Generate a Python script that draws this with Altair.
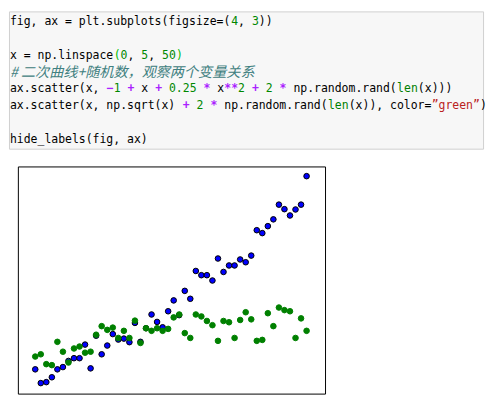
import altair as alt
import pandas as pd

# ---- scatter data ----
x_vals = [0.000, 0.102, 0.204, 0.306, 0.408, 0.510, 0.612, 0.714, 0.816, 0.918,
          1.020, 1.122, 1.224, 1.327, 1.429, 1.531, 1.633, 1.735, 1.837, 1.939,
          2.041, 2.143, 2.245, 2.347, 2.449, 2.551, 2.653, 2.755, 2.857, 2.959,
          3.061, 3.163, 3.265, 3.367, 3.469, 3.571, 3.673, 3.776, 3.878, 3.980,
          4.082, 4.184, 4.286, 4.388, 4.490, 4.592, 4.694, 4.796, 4.898, 5.000]
blue_y = [0.05, -0.80, -0.74, -0.44, 0.05, 0.19, 0.57, 0.74, 0.74, 1.58,
          0.11, 2.13, 0.98, 1.52, 2.23, 1.89, 1.95, 1.73, 2.92, 1.75,
          2.59, 3.44, 2.98, 2.65, 3.64, 4.31, 3.40, 4.90, 4.41, 6.13,
          5.87, 5.87, 5.54, 6.90, 6.07, 6.47, 6.47, 6.84, 6.67, 7.08,
          8.65, 8.47, 8.90, 9.32, 10.23, 9.95, 9.56, 9.93, 10.23, 11.99]
green_y = [0.84, 0.98, 0.37, 0.31, 1.75, 1.14, 0.47, 1.34, 1.46, 1.08,
           1.14, 2.19, 2.72, 2.49, 2.63, 1.99, 2.43, 1.99, 3.06, 1.68,
           2.59, 2.43, 2.59, 2.43, 2.55, 3.26, 3.44, 2.29, 1.99, 3.44,
           3.32, 3.04, 2.78, 1.81, 3.04, 2.96, 1.99, 3.10, 3.58, 3.14,
           1.81, 1.87, 3.52, 2.72, 3.87, 3.71, 3.64, 1.99, 3.20, 2.43]

# ---- code cell text (tokens) ----
code_line = [0, 0, 0, 0, 0,
             2, 2, 2, 2, 2, 2, 2, 2,
             4, 4, 4, 4, 4, 4, 4, 4, 4, 4, 4, 4, 4, 4, 4, 4, 4,
             5, 5, 5, 5, 5, 5, 5, 5, 5,
             7]
code_col = [0, 32, 33, 35, 36,
            0, 15, 16, 17, 19, 20, 22, 24,
            0, 14, 15, 17, 19, 21, 23, 28, 30, 31, 33, 35, 37, 39, 41, 56, 59,
            0, 25, 27, 29, 31, 46, 49, 61, 68,
            0]
code_text = ["fig, ax = plt.subplots(figsize=(", "4", ", ", "3", "))",
             "x = np.linspace", "(", "0", ", ", "5", ", ", "50", ")",
             "ax.scatter(x, ", "\u2212", "1", "+", "x", "+", "0.25", "*", "x", "**", "2", "+", "2", "*",
             "np.random.rand(", "len", "(x)))",
             "ax.scatter(x, np.sqrt(x) ", "+", "2", "*", "np.random.rand(", "len", "(x)), color=",
             "\u201dgreen\u201d", ")",
             "hide_labels(fig, ax)"]
code_kind = ["plain", "num", "plain", "num", "plain",
             "plain", "paren", "num", "plain", "num", "plain", "num", "paren",
             "plain", "op", "num", "op", "plain", "op", "num", "op", "plain", "op", "num", "op", "num", "op",
             "plain", "builtin", "plain",
             "plain", "op", "num", "op", "plain", "builtin", "plain", "str", "plain",
             "plain"]
comment_line = [3]
comment_text = ["# \u4e8c\u6b21\u66f2\u7ebf+\u968f\u673a\u6570\uff0c\u89c2\u5bdf\u4e24\u4e2a\u53d8\u91cf\u5173\u7cfb"]

kind_names = ["plain", "num", "paren", "str", "builtin"]
kind_colors = ["#000000", "#008800", "#00bb00", "#ba2121", "#008000"]

code_df = pd.DataFrame({"line": code_line, "col": code_col,
                        "txt": code_text, "kind": code_kind})
comment_df = pd.DataFrame({"line": comment_line, "col": [0], "txt": comment_text})

CODE_W, CODE_H = 480, 139
PLOT_W, PLOT_H = 311, 230
xs = alt.Scale(domain=[-0.14, CODE_W / 7 - 0.14])
ys = alt.Scale(domain=[-11 / 17, (CODE_H - 11) / 17], reverse=True)

base_txt = alt.Chart(code_df).transform_filter(alt.datum.kind != "op").mark_text(
    align="left", baseline="middle", font="DejaVu Sans Mono", fontSize=11.6
).encode(
    x=alt.X("col:Q", scale=xs, axis=None),
    y=alt.Y("line:Q", scale=ys, axis=None),
    text="txt:N",
    color=alt.Color("kind:N", scale=alt.Scale(domain=kind_names, range=kind_colors), legend=None),
)
op_txt = alt.Chart(code_df).transform_filter(alt.datum.kind == "op").mark_text(
    align="left", baseline="middle", font="DejaVu Sans Mono", fontSize=11.6,
    fontWeight="bold", color="#aa22ff"
).encode(
    x=alt.X("col:Q", scale=xs, axis=None),
    y=alt.Y("line:Q", scale=ys, axis=None),
    text="txt:N",
)
com_txt = alt.Chart(comment_df).mark_text(
    align="left", baseline="middle", font="Noto Sans CJK SC", fontSize=14.3,
    fontStyle="italic", color="#408080"
).encode(
    x=alt.X("col:Q", scale=xs, axis=None),
    y=alt.Y("line:Q", scale=ys, axis=None),
    text="txt:N",
)
code_panel = alt.layer(base_txt, op_txt, com_txt).properties(
    width=CODE_W, height=CODE_H,
    view=alt.ViewBackground(fill="#f7f7f7", stroke="#cfcfcf", strokeWidth=1),
)

# ---- scatter panel ----
sc_df = pd.DataFrame({"x": x_vals, "blue": blue_y, "green": green_y})
sx = alt.Scale(domain=[-0.32, 5.34], nice=False, zero=False)
sy = alt.Scale(domain=[-1.45, 12.59], nice=False, zero=False)

blue_pts = alt.Chart(sc_df).mark_point(
    shape="circle", filled=True, fill="#0000ff", stroke="#000000",
    strokeWidth=1, size=32, opacity=1
).encode(x=alt.X("x:Q", scale=sx, axis=None), y=alt.Y("blue:Q", scale=sy, axis=None))
green_pts = alt.Chart(sc_df).mark_point(
    shape="circle", filled=True, fill="#008000", stroke="#008000",
    strokeWidth=1, size=32, opacity=1
).encode(x=alt.X("x:Q", scale=sx, axis=None), y=alt.Y("green:Q", scale=sy, axis=None))
scatter = alt.layer(blue_pts, green_pts).properties(
    width=PLOT_W, height=PLOT_H,
    view=alt.ViewBackground(fill="#ffffff", stroke="#000000", strokeWidth=1),
)

spacer = alt.Chart(pd.DataFrame({"a": [0]})).mark_point(
    opacity=0, size=0, strokeWidth=0
).encode(
    x=alt.X("a:Q", axis=None, scale=alt.Scale(domain=[0, 1])),
    y=alt.Y("a:Q", axis=None, scale=alt.Scale(domain=[0, 1])),
).properties(width=1, height=PLOT_H, view=alt.ViewBackground(stroke="transparent"))

chart = alt.vconcat(
    code_panel,
    alt.hconcat(spacer, scatter, spacing=6),
    spacing=16,
).properties(padding=0).configure(background="#ffffff")

chart.save("out.html", embed_options={"renderer": "svg", "actions": False})
